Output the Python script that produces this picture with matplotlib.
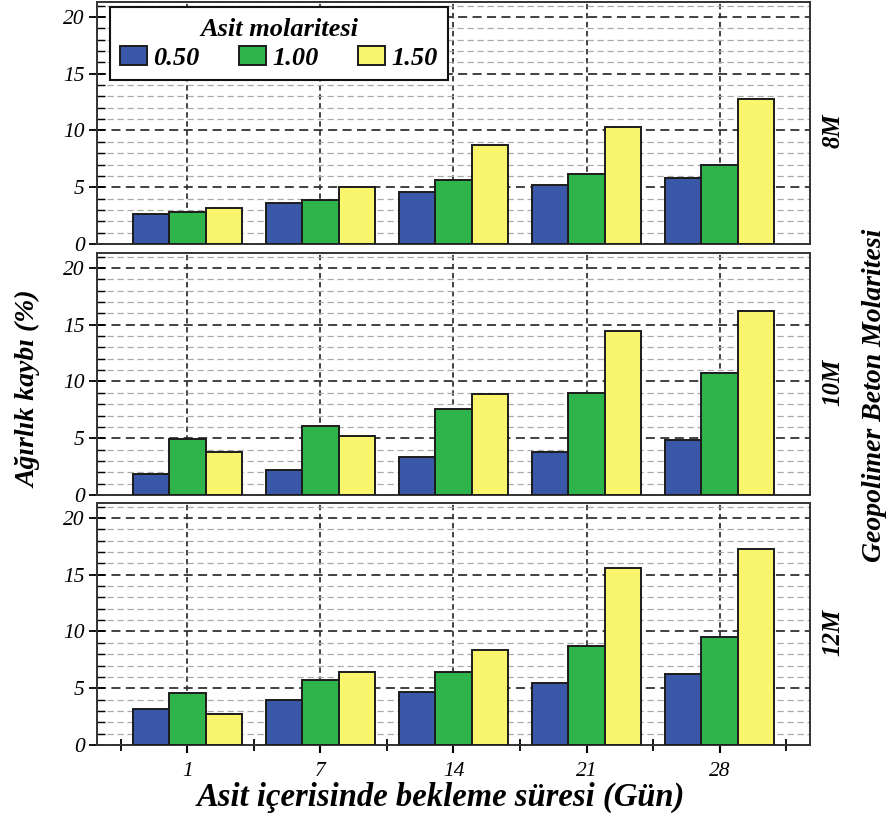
import numpy as np
import matplotlib
matplotlib.use("Agg")
import matplotlib.pyplot as plt
from matplotlib.ticker import MultipleLocator, FixedLocator

plt.rcParams['font.family'] = ['Liberation Serif', 'DejaVu Serif']

days = ['1', '7', '14', '21', '28']
acid_labels = ['0.50', '1.00', '1.50']
panel_names = ['8M', '10M', '12M']

# weight loss (%) per panel, per acid molarity, per day
loss_8m = {
    '0.50': [2.6, 3.6, 4.55, 5.2, 5.8],
    '1.00': [2.8, 3.9, 5.6, 6.2, 7.0],
    '1.50': [3.2, 5.0, 8.7, 10.3, 12.8],
}
loss_10m = {
    '0.50': [1.85, 2.23, 3.35, 3.75, 4.87],
    '1.00': [4.93, 6.04, 7.58, 8.99, 10.71],
    '1.50': [3.75, 5.22, 8.9, 14.48, 16.2],
}
loss_12m = {
    '0.50': [3.14, 3.94, 4.7, 5.46, 6.26],
    '1.00': [4.55, 5.7, 6.43, 8.75, 9.54],
    '1.50': [2.7, 6.43, 8.4, 15.56, 17.27],
}
panels = [loss_8m, loss_10m, loss_12m]

colors = ['#3b57a7', '#2fb34b', '#f9f56c']
edge = '#1c1c1c'
bar_w = 0.275
offsets = [-bar_w, 0, bar_w]

fig = plt.figure(figsize=(8.95, 8.16), dpi=100)
left, width = 0.1084, 0.7966
bottoms = [0.701, 0.3934, 0.087]
height = 0.2963

x = np.arange(len(days))
axes = []
for k, data in enumerate(panels):
    ax = fig.add_axes([left, bottoms[k], width, height])
    axes.append(ax)
    ax.set_axisbelow(True)
    for j, lab in enumerate(acid_labels):
        ax.bar(x + offsets[j], data[lab], width=bar_w, color=colors[j],
               edgecolor=edge, linewidth=1.4, label=lab, zorder=3)
    ax.set_xlim(-0.68, 4.68)
    ax.set_ylim(0, 21.3)
    ax.yaxis.set_major_locator(FixedLocator([0, 5, 10, 15, 20]))
    ax.yaxis.set_minor_locator(MultipleLocator(1))
    ax.grid(True, which='major', axis='y', color='#333333', linestyle=(0, (5, 3)), linewidth=1.3)
    ax.grid(True, which='minor', axis='y', color='#aaaaaa', linestyle=(0, (5, 3)), linewidth=0.9)
    ax.grid(True, which='major', axis='x', color='#333333', linestyle=(0, (3, 2)), linewidth=1.3)
    ax.set_xticks(x)
    ax.tick_params(axis='y', which='major', direction='inout', length=12, width=1.3,
                   labelsize=15.5, right=False, pad=3)
    ax.tick_params(axis='y', which='minor', direction='in', length=6, width=1.0)
    for t in ax.get_yticklabels():
        t.set_fontstyle('italic')
    for s in ax.spines.values():
        s.set_color('#333333')
        s.set_linewidth(1.4)
    ax.text(1.032, 0.467, panel_names[k], transform=ax.transAxes, rotation=90,
            ha='center', va='center', fontsize=18, fontweight='bold', fontstyle='italic')
    if k < 2:
        ax.tick_params(axis='x', which='both', bottom=False, labelbottom=False)
    else:
        ax.set_xticks(np.arange(-0.5, 5, 1), minor=True)
        ax.set_xticklabels(days, fontstyle='italic')
        ax.tick_params(axis='x', which='major', direction='inout', length=12, width=1.5,
                       labelsize=15.5, pad=6)
        ax.tick_params(axis='x', which='minor', direction='inout', length=8, width=1.3)

leg = axes[0].legend(title='Asit molaritesi', ncol=3, loc='upper left',
                     bbox_to_anchor=(0.018, 0.98), borderaxespad=0,
                     fancybox=False, framealpha=1,
                     edgecolor='#111111', handlelength=1.0, handleheight=0.75,
                     columnspacing=1.5, handletextpad=0.25, borderpad=0.4,
                     labelspacing=0.2,
                     prop={'size': 19, 'weight': 'bold', 'style': 'italic'})
leg.get_frame().set_linewidth(1.5)
leg.get_title().set_fontsize(19)
leg.get_title().set_fontweight('bold')
leg.get_title().set_fontstyle('italic')
leg.set_zorder(10)

fig.text(0.032, 0.523, 'Ağırlık kaybı (%)', rotation=90, ha='center', va='center',
         fontsize=20, fontweight='bold', fontstyle='italic')
fig.text(0.977, 0.516, 'Geopolimer Beton Molaritesi', rotation=90, ha='center', va='center',
         fontsize=20, fontweight='bold', fontstyle='italic')
fig.text(0.493, 0.023, 'Asit içerisinde bekleme süresi (Gün)', ha='center', va='center',
         fontsize=23.5, fontweight='bold', fontstyle='italic')

fig.savefig('out.png', dpi=100)
